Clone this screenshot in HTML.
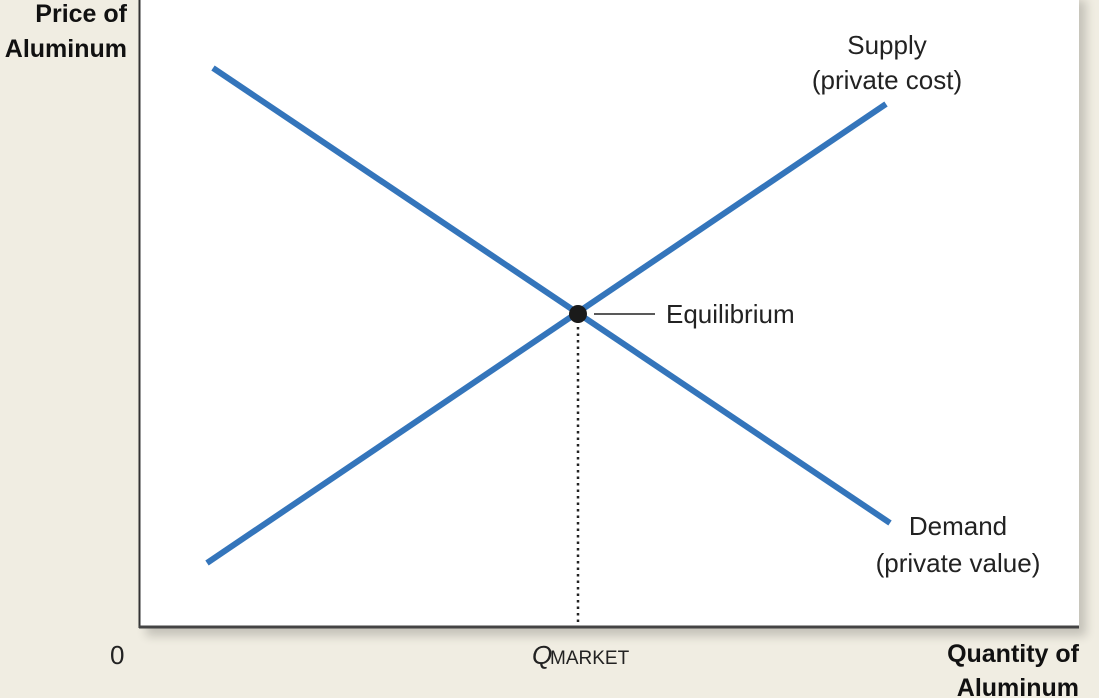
<!DOCTYPE html>
<html><head><style>
html,body{margin:0;padding:0;background:#f0ede2;}
body{width:1099px;height:698px;position:relative;overflow:hidden;font-family:"Liberation Sans",sans-serif;}
</style></head><body>
<svg width="1099" height="698" style="position:absolute;left:0;top:0">
<defs><filter id="sh" x="-5%" y="-5%" width="115%" height="115%"><feGaussianBlur stdDeviation="5"/></filter></defs>
<rect x="146" y="0" width="940" height="636" fill="#000" opacity="0.18" filter="url(#sh)"/>
<rect x="139" y="0" width="940" height="627" fill="#fff"/>
<line x1="139.5" y1="0" x2="139.5" y2="628" stroke="#333" stroke-width="2"/>
<line x1="139" y1="627" x2="1079" y2="627" stroke="#444" stroke-width="3"/>
<line x1="578" y1="314" x2="578" y2="626" stroke="#222" stroke-width="2.5" stroke-dasharray="2.5,4"/>
<line x1="213" y1="68" x2="890" y2="523" stroke="#3475bb" stroke-width="6"/>
<line x1="207" y1="563" x2="886" y2="104" stroke="#3475bb" stroke-width="6"/>
<circle cx="578" cy="314" r="9" fill="#1a1a1a"/>
<line x1="594" y1="314" x2="655" y2="314" stroke="#222" stroke-width="1.5"/>
<g font-size="26" fill="#222">
<text x="666" y="323">Equilibrium</text>
<text x="887" y="54" text-anchor="middle">Supply</text>
<text x="887" y="89" text-anchor="middle">(private cost)</text>
<text x="958" y="535" text-anchor="middle">Demand</text>
<text x="958" y="572" text-anchor="middle">(private value)</text>
<text x="110" y="664">0</text>
<text x="532" y="664" font-style="italic">Q</text>
<text x="550" y="664" font-size="19">MARKET</text>
</g>
<g font-size="25" font-weight="bold" fill="#111" text-anchor="end">
<text x="127" y="22">Price of</text>
<text x="127" y="57">Aluminum</text>
<text x="1079" y="662">Quantity of</text>
<text x="1079" y="696">Aluminum</text>
</g>
</svg>
</body></html>
